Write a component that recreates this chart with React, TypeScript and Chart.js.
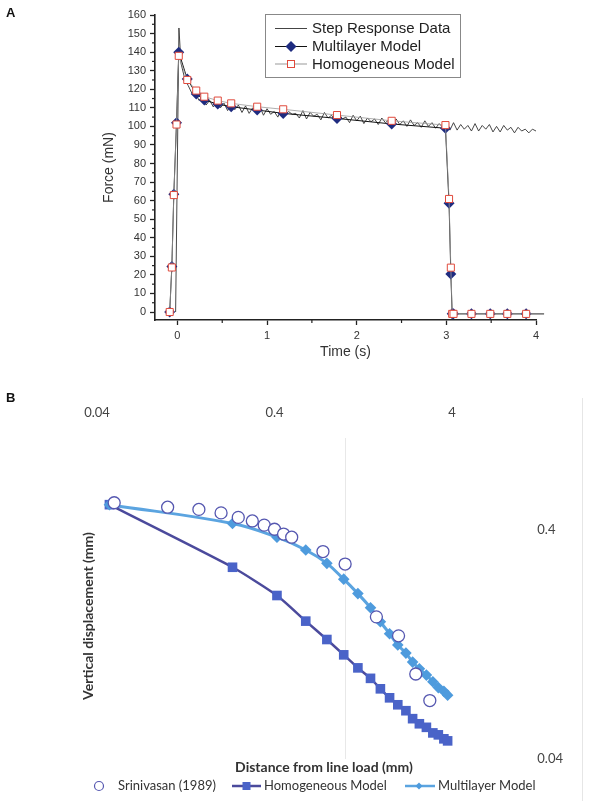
import React, { useEffect, useRef } from 'react';
import { Chart, registerables } from 'chart.js';
Chart.register(...registerables);

// ---------- Panel A : step response ----------
const stepTimes = [-0.02, 0.017, 0.04, 0.08, 0.12, 0.16, 0.2, 0.24, 0.28, 0.32, 0.36, 0.4, 0.44, 0.48, 0.52, 0.56, 0.6, 0.64, 0.68, 0.72, 0.76, 0.8, 0.84, 0.88, 0.92, 0.96, 1, 1.04, 1.08, 1.12, 1.16, 1.2, 1.24, 1.28, 1.32, 1.36, 1.4, 1.44, 1.48, 1.52, 1.56, 1.6, 1.64, 1.68, 1.72, 1.76, 1.8, 1.84, 1.88, 1.92, 1.96, 2, 2.04, 2.08, 2.12, 2.16, 2.2, 2.24, 2.28, 2.32, 2.36, 2.4, 2.44, 2.48, 2.52, 2.56, 2.6, 2.64, 2.68, 2.72, 2.76, 2.8, 2.84, 2.88, 2.92, 2.96, 3, 3.04, 3.08, 3.12, 3.16, 3.2, 3.24, 3.28, 3.32, 3.36, 3.4, 3.44, 3.48, 3.52, 3.56, 3.6, 3.64, 3.68, 3.72, 3.76, 3.8, 3.84, 3.88, 3.92, 3.96, 4];
const stepForce = [0, 153, 134, 126, 122, 118, 118.5, 114, 115.5, 111.5, 114, 110.5, 113, 110, 112.5, 108.5, 112, 109, 111.5, 107.5, 111, 107, 110, 108, 110.5, 106, 109.5, 106.5, 108, 105, 109.5, 106, 108, 106.5, 107, 104.5, 108.5, 104, 107.5, 105.5, 106.5, 103.5, 107.5, 104.5, 106, 103, 107, 104, 105, 102, 106, 103, 105.5, 101.5, 104.5, 102.5, 104, 101, 104.5, 102, 103.5, 100.5, 104, 101, 103, 100, 103.5, 100.5, 102, 99.5, 103, 100, 102, 99, 101.5, 99.5, 101.5, 98, 102, 98, 101, 98.5, 100.5, 97.5, 101.5, 97.5, 100.5, 98.5, 101, 97, 100, 97, 100.5, 98, 99.5, 96.5, 99.5, 97.5, 98.5, 96.5, 98.5, 97.5];

const modelTimes = [-0.086, -0.062, -0.04, -0.01, 0.015, 0.11, 0.21, 0.3, 0.45, 0.6, 0.89, 1.18, 1.78, 2.39, 2.99, 3.03, 3.05, 3.065, 3.08, 3.28, 3.49, 3.68, 3.89, 4.09];
const multilayerForce = [0, 24.5, 63.5, 102, 140, 125.5, 117.5, 114.2, 112, 110.6, 108.8, 107, 104.3, 101.3, 99, 58.6, 20.5, -1, -1, -1, -1, -1, -1, -1];
const homogeneousForce = [0, 24, 63, 101, 138, 125, 119.3, 116, 113.9, 112.4, 110.6, 109.2, 106.1, 103, 100.7, 60.9, 23.9, -1, -1, -1, -1, -1, -1, -1];

const forceTicks = [0, 10, 20, 30, 40, 50, 60, 70, 80, 90, 100, 110, 120, 130, 140, 150, 160];
const forceMinorTicks = [5, 15, 25, 35, 45, 55, 65, 75, 85, 95, 105, 115, 125, 135, 145, 155];
const timeTicks = [0, 1, 2, 3, 4];
const timeMinorTicks = [0.5, 1.5, 2.5, 3.5];

const legendA = ['Step Response Data', 'Multilayer Model', 'Homogeneous Model'];

// ---------- Panel B : displacement vs distance ----------
const srinivasanDist = [0.05, 0.1, 0.15, 0.2, 0.25, 0.3, 0.35, 0.4, 0.45, 0.5, 0.75, 1.0, 1.5, 2.0, 2.5, 3.0];
const srinivasanDisp = [0.526, 0.503, 0.492, 0.475, 0.454, 0.438, 0.42, 0.403, 0.384, 0.372, 0.322, 0.284, 0.167, 0.138, 0.094, 0.072];

const modelDist = [0.047, 0.232, 0.413, 0.6, 0.789, 0.982, 1.18, 1.39, 1.58, 1.78, 1.98, 2.2, 2.4, 2.62, 2.87, 3.12, 3.35, 3.6, 3.78];
const homogeneousDisp = [0.516, 0.275, 0.207, 0.16, 0.133, 0.114, 0.1, 0.09, 0.081, 0.074, 0.069, 0.065, 0.06, 0.057, 0.055, 0.052, 0.051, 0.049, 0.048];
const multilayerDisp = [0.516, 0.427, 0.372, 0.327, 0.286, 0.244, 0.211, 0.183, 0.159, 0.141, 0.126, 0.116, 0.106, 0.099, 0.093, 0.087, 0.082, 0.079, 0.076];

const distTicks = [0.04, 0.4, 4];
const dispTicks = [0.04, 0.4];
const legendB = ['Srinivasan (1989)', 'Homogeneous Model', 'Multilayer Model'];

const pts = (xs: number[], ys: number[]) => xs.map((x, i) => ({ x, y: ys[i] }));

const NAVY = '#1F2C80';
const RED = '#E04A3C';
const HOMOG_B_LINE = '#4B4A9C';
const HOMOG_B_MARK = '#4A63C8';
const MULTI_B_LINE = '#5BA4E0';
const MULTI_B_MARK = '#4E9BDD';
const CIRCLE_B = '#5557B0';

const minorTicksPlugin = {
  id: 'minorTicksA',
  afterDraw(chart: any) {
    const { ctx, chartArea } = chart;
    const x = chart.scales.x, y = chart.scales.y;
    ctx.save();
    ctx.strokeStyle = '#222';
    ctx.lineWidth = 1.2;
    forceMinorTicks.forEach((v) => {
      const py = y.getPixelForValue(v);
      ctx.beginPath(); ctx.moveTo(chartArea.left - 3, py); ctx.lineTo(chartArea.left, py); ctx.stroke();
    });
    timeMinorTicks.forEach((v) => {
      const px = x.getPixelForValue(v);
      ctx.beginPath(); ctx.moveTo(px, chartArea.bottom); ctx.lineTo(px, chartArea.bottom + 3); ctx.stroke();
    });
    ctx.restore();
  },
};

const legendAPlugin = {
  id: 'legendA',
  afterDraw(chart: any) {
    const { ctx } = chart;
    ctx.save();
    ctx.strokeStyle = '#888';
    ctx.lineWidth = 1;
    ctx.strokeRect(265.5, 14.5, 195, 63);
    const rows = [28.5, 46.5, 64];
    const lineCols = ['#444', '#111', '#999'];
    rows.forEach((ry, i) => {
      ctx.strokeStyle = lineCols[i];
      ctx.lineWidth = 1;
      ctx.beginPath(); ctx.moveTo(275, ry); ctx.lineTo(307, ry); ctx.stroke();
      if (i === 1) {
        ctx.fillStyle = NAVY;
        ctx.beginPath();
        ctx.moveTo(291, ry - 5.5); ctx.lineTo(296.5, ry); ctx.lineTo(291, ry + 5.5); ctx.lineTo(285.5, ry);
        ctx.closePath(); ctx.fill();
      }
      if (i === 2) {
        ctx.fillStyle = '#fff';
        ctx.strokeStyle = RED;
        ctx.fillRect(287.5, ry - 3.5, 7, 7);
        ctx.strokeRect(287.5, ry - 3.5, 7, 7);
      }
      ctx.fillStyle = '#222';
      ctx.font = '15px "Liberation Sans", Arial, sans-serif';
      ctx.textBaseline = 'middle';
      ctx.textAlign = 'left';
      ctx.fillText(legendA[i], 312, ry + 0.5);
    });
    ctx.restore();
  },
};

const gridBPlugin = {
  id: 'gridB',
  beforeDatasetsDraw(chart: any) {
    const { ctx, chartArea } = chart;
    const px = chart.scales.x.getPixelForValue(1);
    ctx.save();
    ctx.strokeStyle = 'rgba(0,0,0,0.09)';
    ctx.lineWidth = 1;
    ctx.beginPath(); ctx.moveTo(Math.round(px) + 0.5, chartArea.top - 35); ctx.lineTo(Math.round(px) + 0.5, chartArea.bottom); ctx.stroke();
    ctx.restore();
  },
};

const legendBPlugin = {
  id: 'legendB',
  afterDraw(chart: any) {
    const { ctx } = chart;
    const ry = 406;
    ctx.save();
    ctx.strokeStyle = CIRCLE_B; ctx.fillStyle = '#fff'; ctx.lineWidth = 1.2;
    ctx.beginPath(); ctx.arc(99, ry, 4.5, 0, Math.PI * 2); ctx.fill(); ctx.stroke();
    ctx.strokeStyle = HOMOG_B_LINE; ctx.lineWidth = 2.5;
    ctx.beginPath(); ctx.moveTo(232, ry); ctx.lineTo(261, ry); ctx.stroke();
    ctx.fillStyle = HOMOG_B_MARK; ctx.fillRect(242.5, ry - 4, 8, 8);
    ctx.strokeStyle = MULTI_B_LINE; ctx.lineWidth = 2.5;
    ctx.beginPath(); ctx.moveTo(405, ry); ctx.lineTo(435, ry); ctx.stroke();
    ctx.fillStyle = MULTI_B_MARK;
    ctx.beginPath(); ctx.moveTo(419, ry - 3.5); ctx.lineTo(422.5, ry); ctx.lineTo(419, ry + 3.5); ctx.lineTo(415.5, ry); ctx.closePath(); ctx.fill();
    ctx.fillStyle = '#333';
    ctx.font = '13px Lato, "Open Sans", sans-serif';
    ctx.textBaseline = 'middle';
    ctx.textAlign = 'left';
    ctx.fillText(legendB[0], 118, ry);
    ctx.fillText(legendB[1], 264, ry);
    ctx.fillText(legendB[2], 438, ry);
    ctx.restore();
  },
};

export default function App() {
  const refA = useRef<HTMLCanvasElement>(null);
  const refB = useRef<HTMLCanvasElement>(null);

  useEffect(() => {
    document.body.style.margin = '0';
    const fontA = { family: '"Liberation Sans", Arial, sans-serif' };
    const chartA = new Chart(refA.current as HTMLCanvasElement, {
      type: 'line',
      data: {
        datasets: [
          {
            label: legendA[0],
            data: pts(stepTimes, stepForce),
            borderColor: '#333',
            borderWidth: 0.9,
            pointRadius: 0,
            order: 3,
          },
          {
            label: legendA[1],
            data: pts(modelTimes, multilayerForce),
            borderColor: '#111',
            borderWidth: 1,
            pointStyle: 'rectRot',
            pointRadius: 5.5,
            pointBackgroundColor: NAVY,
            pointBorderColor: NAVY,
            pointBorderWidth: 0,
            clip: false,
            order: 2,
          },
          {
            label: legendA[2],
            data: pts(modelTimes, homogeneousForce),
            borderColor: '#9a9a9a',
            borderWidth: 0.8,
            pointStyle: 'rect',
            pointRadius: 5,
            pointBackgroundColor: '#fff',
            pointBorderColor: RED,
            pointBorderWidth: 1,
            clip: false,
            order: 1,
          },
        ] as any,
      },
      options: {
        animation: false,
        responsive: false,
        maintainAspectRatio: false,
        layout: { padding: { top: 15, right: 55, left: 0, bottom: 0 } },
        plugins: { legend: { display: false }, tooltip: { enabled: false } },
        elements: { line: { tension: 0 } },
        scales: {
          x: {
            type: 'linear',
            min: -0.25,
            max: 4,
            afterBuildTicks: (s: any) => { s.ticks = timeTicks.map((v) => ({ value: v })); },
            afterFit: (s: any) => { s.height = 60; },
            grid: { drawOnChartArea: false, drawTicks: true, tickLength: 5, color: '#222', tickWidth: 1.3 },
            border: { display: true, color: '#222', width: 1.6 },
            ticks: { padding: 4, color: '#333', font: { ...fontA, size: 11 }, maxRotation: 0, callback: (v: any) => String(v) },
            title: { display: true, text: 'Time (s)', color: '#333', font: { ...fontA, size: 14 }, padding: { top: 0, bottom: 19 } },
          },
          y: {
            type: 'linear',
            min: -4.3,
            max: 160,
            afterBuildTicks: (s: any) => { s.ticks = forceTicks.map((v) => ({ value: v })); },
            afterFit: (s: any) => { s.width = 155; },
            grid: { drawOnChartArea: false, drawTicks: true, tickLength: 5, color: '#222', tickWidth: 1.3 },
            border: { display: true, color: '#222', width: 1.6 },
            ticks: { padding: 4, color: '#333', font: { ...fontA, size: 11 }, callback: (v: any) => String(v) },
            title: { display: true, text: 'Force (mN)', color: '#333', font: { ...fontA, size: 14 }, padding: { top: 101, bottom: 0 } },
          },
        },
      } as any,
      plugins: [minorTicksPlugin, legendAPlugin],
    });

    const fontB = { family: 'Lato, "Open Sans", sans-serif' };
    const chartB = new Chart(refB.current as HTMLCanvasElement, {
      type: 'line',
      data: {
        datasets: [
          {
            label: legendB[0],
            data: pts(srinivasanDist, srinivasanDisp),
            showLine: false,
            pointStyle: 'circle',
            pointRadius: 6,
            pointBackgroundColor: '#fff',
            pointBorderColor: CIRCLE_B,
            pointBorderWidth: 1.3,
            xAxisID: 'x',
            yAxisID: 'y',
            order: 1,
          },
          {
            label: legendB[1],
            data: pts(modelDist, homogeneousDisp),
            borderColor: HOMOG_B_LINE,
            borderWidth: 2.5,
            tension: 0.2,
            pointStyle: 'rect',
            pointRadius: 6.8,
            pointBackgroundColor: HOMOG_B_MARK,
            pointBorderColor: HOMOG_B_MARK,
            pointBorderWidth: 0,
            xAxisID: 'x',
            yAxisID: 'y',
            order: 3,
          },
          {
            label: legendB[2],
            data: pts(modelDist, multilayerDisp),
            borderColor: MULTI_B_LINE,
            borderWidth: 3,
            tension: 0.4,
            pointStyle: 'rectRot',
            pointRadius: 5.8,
            pointBackgroundColor: MULTI_B_MARK,
            pointBorderColor: MULTI_B_MARK,
            pointBorderWidth: 0,
            xAxisID: 'x',
            yAxisID: 'y',
            order: 2,
          },
        ] as any,
      },
      options: {
        animation: false,
        responsive: false,
        maintainAspectRatio: false,
        layout: { padding: 0 },
        plugins: { legend: { display: false }, tooltip: { enabled: false } },
        scales: {
          x: {
            type: 'logarithmic',
            position: 'top',
            min: 0.04,
            max: 14.45,
            afterBuildTicks: (s: any) => { s.ticks = distTicks.map((v) => ({ value: v })); },
            afterFit: (s: any) => { s.height = 93; },
            grid: { display: false, drawTicks: false },
            border: { display: false },
            ticks: { padding: 52, color: '#444', font: { ...fontB, size: 13 }, maxRotation: 0, autoSkip: false, callback: (v: any) => String(v) },
          },
          y: {
            type: 'logarithmic',
            position: 'right',
            min: 0.04,
            max: 0.7095,
            afterBuildTicks: (s: any) => { s.ticks = dispTicks.map((v) => ({ value: v })); },
            afterFit: (s: any) => { s.width = 40; },
            grid: { display: false, drawTicks: false },
            border: { display: false },
            ticks: { mirror: true, crossAlign: 'far', padding: 12, color: '#444', font: { ...fontB, size: 13 }, autoSkip: false, callback: (v: any) => String(v) },
          },
          x2: {
            type: 'linear',
            position: 'bottom',
            min: 0,
            max: 1,
            afterFit: (s: any) => { s.height = 42; },
            grid: { display: false, drawTicks: false },
            border: { display: false },
            ticks: { display: false },
            title: { display: true, text: 'Distance from line load (mm)', color: '#333', font: { ...fontB, size: 14, weight: 'bold' }, padding: { top: 0, bottom: 25 } },
          },
          y2: {
            type: 'linear',
            position: 'left',
            min: 0,
            max: 1,
            afterFit: (s: any) => { s.width = 97; },
            grid: { display: false, drawTicks: false },
            border: { display: false },
            ticks: { display: false },
            title: { display: true, text: 'Vertical displacement (mm)', color: '#333', font: { ...fontB, size: 14, weight: 'bold' }, padding: { top: 79.6, bottom: 0 } },
          },
        },
      } as any,
      plugins: [gridBPlugin, legendBPlugin],
    });

    return () => {
      chartA.destroy();
      chartB.destroy();
    };
  }, []);

  const panelLabel: React.CSSProperties = {
    position: 'absolute',
    left: 6,
    fontFamily: '"Liberation Sans", Arial, sans-serif',
    fontWeight: 'bold',
    fontSize: 13,
    lineHeight: '13px',
    color: '#111',
  };

  return (
    <div style={{ position: 'relative', width: 591, height: 801, background: '#fff', overflow: 'hidden' }}>
      <canvas ref={refA} width={591} height={380} style={{ position: 'absolute', left: 0, top: 0 }} />
      <canvas ref={refB} width={591} height={421} style={{ position: 'absolute', left: 0, top: 380 }} />
      <div style={{ position: 'absolute', left: 582, top: 398, width: 1, height: 403, background: '#e6e6e6' }} />
      <div style={{ ...panelLabel, top: 5.5 }}>A</div>
      <div style={{ ...panelLabel, top: 390.5 }}>B</div>
    </div>
  );
}
